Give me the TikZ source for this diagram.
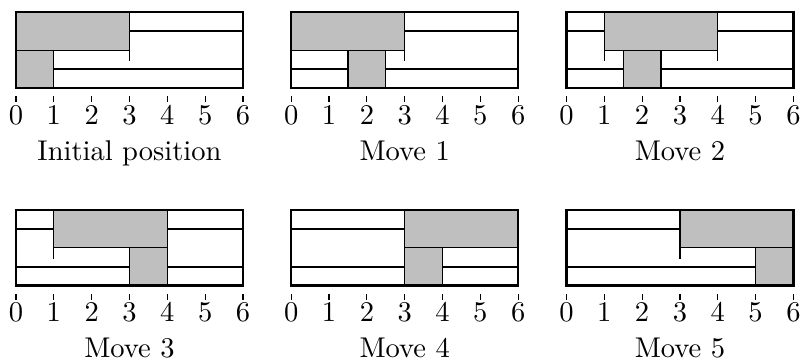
\documentclass[tikz,border=0pt]{standalone}
\usepackage{tikz}

\tikzset{
  frame/.style={thick},
  rail/.style={semithick},
  block/.style={draw, fill=lightgray},
}

\begin{document}
\begin{tikzpicture}[x=0.466cm, y=0.466cm]
    \useasboundingbox (-0.423,-7.218) rectangle (20.777,2.325);

    % one panel per position: shift x/y, left end of long block, left end of short block
    \foreach \px/\py/\a/\b/\cap [count=\n] in {0/0/0/0/Initial position,
        7.275/0/0/1.5/Move 1, 14.55/0/1/1.5/Move 2,
        0/-5.225/1/3/Move 3, 7.275/-5.225/3/3/Move 4, 14.55/-5.225/3/5/Move 5} {
        \begin{scope}[shift={(\px,\py)}]
            % blocks
            \draw[block] (\a,1) rectangle ({\a+3},2);
            \draw[block] (\b,0) rectangle ({\b+1},1);
            \draw (\a,1) -- (\a,0.7);
            \draw ({\a+3},1) -- ({\a+3},0.7);

            % rails
            \draw[rail] (0,1.5) -- (\a,1.5);
            \draw[rail] ({\a+3},1.5) -- (6,1.5);
            \draw[rail] (0,0.5) -- (\b,0.5);
            \draw[rail] ({\b+1},0.5) -- (6,0.5);

            \draw[frame] (0,0) rectangle (6,2);

            % axis
            \foreach \t in {0,...,6} {
                \draw (\t,-0.22) -- (\t,-0.38);
                \node (lbl-\n-\t) at (\t,-0.714) {$\t$};
            }
            \node[anchor=base] (cap-\n) at (3,-1.91) {\cap};
        \end{scope}
    }
\end{tikzpicture}
\end{document}
